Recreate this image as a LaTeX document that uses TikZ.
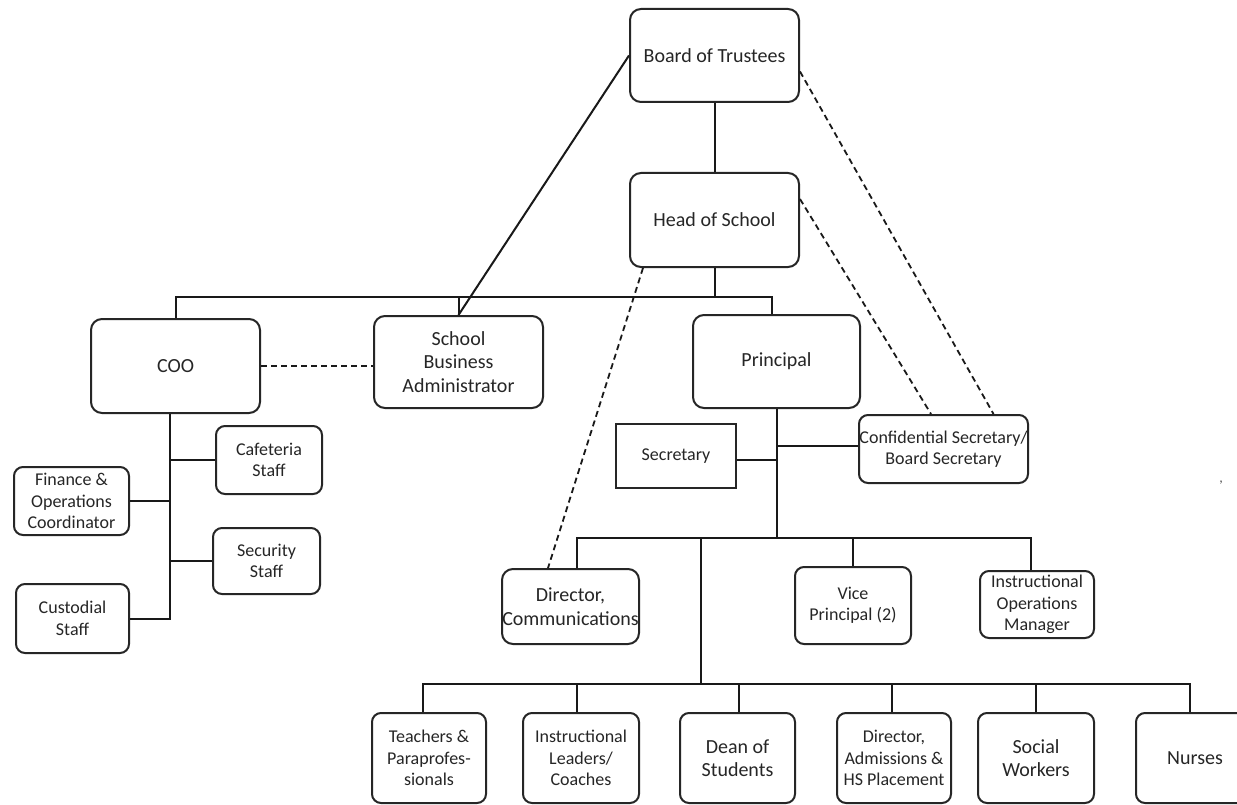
\documentclass[tikz,border=0pt]{standalone}
\usepackage{fontspec}
\setmainfont{Carlito}
\begin{document}
\begin{tikzpicture}[x=1pt,y=-1pt,
  ln/.style={draw=black!90, line width=2pt},
  dsh/.style={draw=black!90, line width=1.8pt, dash pattern=on 6pt off 4pt},
  box/.style={draw=black!85, line width=2pt, rounded corners=11pt, align=center, text=black!85, inner sep=0pt},
  big/.style={box, font=\fontsize{20}{23.5}\selectfont},
  small/.style={box, font=\fontsize{18}{21.5}\selectfont, rounded corners=9pt},
]
\clip (0,0) rectangle (1237,805);
\fill[white] (0,0) rectangle (1237,805);

% top levels
\node[big, minimum width=169pt, minimum height=93pt] (board) at (714.5,55.5) {Board of Trustees};
\node[big, minimum width=169pt, minimum height=94pt] (head) at (714.5,220) {Head of School};
\node[big, minimum width=169pt, minimum height=94pt] (coo) at (175.5,366) {COO};
\node[big, minimum width=169pt, minimum height=92pt] (sba) at (458.5,362) {School\\Business\\Administrator};
\node[big, minimum width=167pt, minimum height=93pt] (principal) at (776.5,361.5) {Principal};

% principal staff
\node[small, rounded corners=0pt, minimum width=120pt, minimum height=64pt] (secretary) at (676,456) {Secretary};
\node[small, minimum width=169pt, minimum height=68pt] (conf) at (943.5,449) {Confidential Secretary/\\Board Secretary};

% COO staff
\node[small, minimum width=106pt, minimum height=68pt] (cafe) at (269,460) {Cafeteria\\Staff};
\node[small, minimum width=115pt, minimum height=68pt] (finance) at (71.5,501) {Finance \&\\Operations\\Coordinator};
\node[small, minimum width=107pt, minimum height=66pt] (security) at (266.5,561) {Security\\Staff};
\node[small, minimum width=113pt, minimum height=69pt] (custodial) at (72.5,618.5) {Custodial\\Staff};

% level 3
\node[big, minimum width=137pt, minimum height=75pt] (dircomm) at (570.5,606.5) {Director,\\Communications};
\node[small, minimum width=116pt, minimum height=77pt] (vp) at (853,605.5) {Vice\\Principal (2)};
\node[small, minimum width=114pt, minimum height=67pt] (iom) at (1037,604.5) {Instructional\\Operations\\Manager};

% level 4
\node[small, minimum width=114pt, minimum height=90pt] (teachers) at (429,758) {Teachers \&\\Paraprofes-\\sionals};
\node[small, minimum width=116pt, minimum height=90pt] (leaders) at (581,758) {Instructional\\Leaders/\\Coaches};
\node[big, rounded corners=9pt, minimum width=115pt, minimum height=90pt] (dean) at (737.5,758) {Dean of\\Students};
\node[small, minimum width=114pt, minimum height=90pt] (diradm) at (894,758) {Director,\\Admissions \&\\HS Placement};
\node[big, rounded corners=9pt, minimum width=116pt, minimum height=90pt] (social) at (1036,758) {Social\\Workers};
\node[big, rounded corners=9pt, minimum width=118pt, minimum height=90pt] (nurses) at (1195,758) {Nurses};

\node[font=\fontsize{14}{14}\selectfont, text=black!70, inner sep=0pt] (speck) at (1221,483) {,};

% bar coordinates
\coordinate (bar1) at (0,297);
\coordinate (bar2) at (0,538);
\coordinate (bar3) at (0,684);
\coordinate (pn) at ([xshift=-4.5pt]principal.north);
\coordinate (cv) at ([xshift=-5.5pt]coo.south);
\coordinate (d1) at ([xshift=6.5pt]dircomm.north);
\coordinate (d3) at ([xshift=-6pt]iom.north);
\coordinate (j3) at (701,538);
\coordinate (j4) at (701,684);
\coordinate (t1) at ([xshift=-6pt]teachers.north);
\coordinate (t2) at ([xshift=-4pt]leaders.north);
\coordinate (t3) at ([xshift=1.5pt]dean.north);
\coordinate (t4) at ([xshift=-2pt]diradm.north);
\coordinate (t5) at (social.north);
\coordinate (t6) at ([xshift=-5pt]nurses.north);

% connectors top
\draw[ln] (board) -- (head);
\draw[ln] (head.south) -- (head.south |- bar1);
\draw[ln] (coo.north) -- (coo.north |- bar1) -- (pn |- bar1) -- (pn);
\draw[ln] (sba.north) -- (sba.north |- bar1);
\draw[ln] (board.west) -- (sba.north);
\draw[dsh] (coo.east) -- (coo.east -| sba.west);
\draw[dsh] ([yshift=-16pt]board.east) -- ([xshift=50pt]conf.north);
\draw[dsh] ([yshift=21pt]head.east) -- ([xshift=-12.5pt]conf.north);
\draw[dsh] ([xshift=14pt]head.south west) -- ([xshift=-22.5pt]dircomm.north);

% COO tree
\draw[ln] (cv) -- (cv |- custodial.east) -- (custodial.east);
\draw[ln] (cafe.west) -- (cafe.west -| cv);
\draw[ln] (finance.east) -- (finance.east -| cv);
\draw[ln] (security.west) -- (security.west -| cv);

% principal tree
\draw[ln] (principal.south) -- (principal.south |- bar2);
\draw[ln] ([yshift=-4pt]secretary.east) -- ([yshift=-4pt]secretary.east -| principal.south);
\draw[ln] ([yshift=3pt]conf.west) -- ([yshift=3pt]conf.west -| principal.south);
\draw[ln] (d1) -- (d1 |- bar2) -- (d3 |- bar2) -- (d3);
\draw[ln] (vp.north) -- (vp.north |- bar2);
\draw[ln] (j3) -- (j4);
\draw[ln] (t1) -- (t1 |- bar3) -- (t6 |- bar3) -- (t6);
\draw[ln] (t2) -- (t2 |- bar3);
\draw[ln] (t3) -- (t3 |- bar3);
\draw[ln] (t4) -- (t4 |- bar3);
\draw[ln] (t5) -- (t5 |- bar3);
\end{tikzpicture}
\end{document}
